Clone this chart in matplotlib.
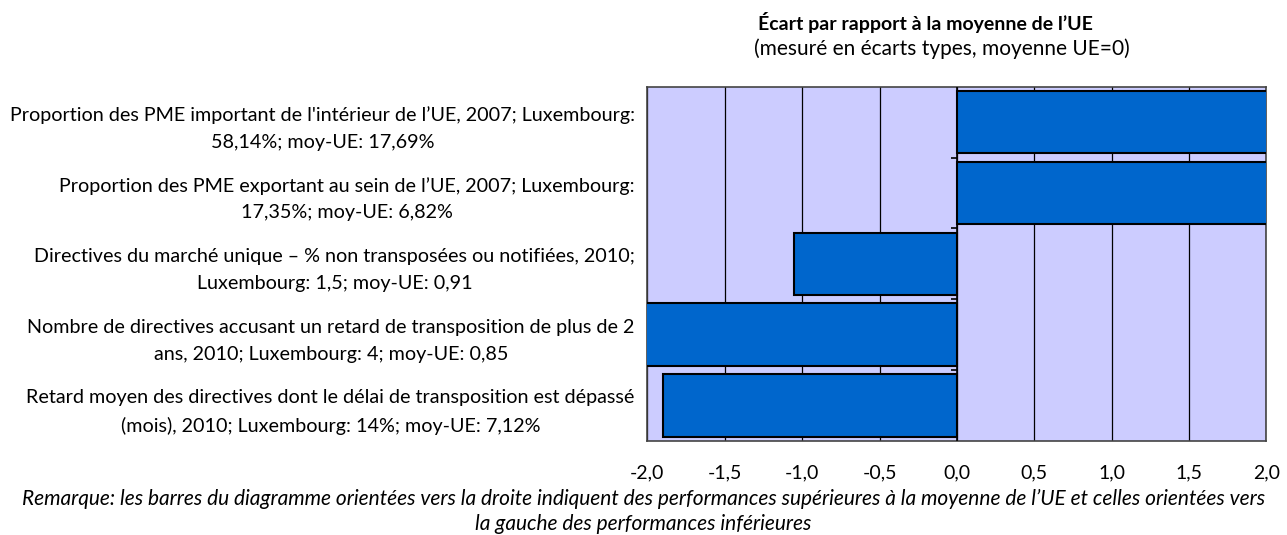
import matplotlib
matplotlib.use("Agg")
import matplotlib.pyplot as plt
import numpy as np

categories = [
    "Proportion des PME important de l'intérieur de l’UE, 2007; Luxembourg:\n58,14%; moy-UE: 17,69%",
    "Proportion des PME exportant au sein de l’UE, 2007; Luxembourg:\n17,35%; moy-UE: 6,82%",
    "Directives du marché unique – % non transposées ou notifiées, 2010;\nLuxembourg: 1,5; moy-UE: 0,91",
    "Nombre de directives accusant un retard de transposition de plus de 2\nans, 2010; Luxembourg: 4; moy-UE: 0,85",
    "Retard moyen des directives dont le délai de transposition est dépassé\n(mois), 2010; Luxembourg: 14%; moy-UE: 7,12%",
]
values = [2.6, 2.4, -1.05, -2.3, -1.9]
xticks = [-2.0, -1.5, -1.0, -0.5, 0.0, 0.5, 1.0, 1.5, 2.0]
xticklabels = ["-2,0", "-1,5", "-1,0", "-0,5", "0,0", "0,5", "1,0", "1,5", "2,0"]

title = "Écart par rapport à la moyenne de l’UE"
subtitle = "(mesuré en écarts types, moyenne UE=0)"
remark = ("Remarque: les barres du diagramme orientées vers la droite indiquent des performances supérieures à la moyenne de l’UE et celles orientées vers\n"
          "la gauche des performances inférieures")

plt.rcParams['font.family'] = ['Lato', 'DejaVu Sans']

fig = plt.figure(figsize=(12.87, 5.35), dpi=100)
ax = fig.add_axes([0.503, 0.176, 0.481, 0.662])
ax.set_facecolor("#CCCCFF")

y = np.arange(len(categories))
ax.barh(y, values, height=0.88, color="#0066CC", edgecolor="black", linewidth=1.5, zorder=3)

ax.set_xlim(-2.0, 2.0)
ax.set_ylim(len(categories) - 0.5, -0.5)
ax.set_xticks(xticks)
ax.set_xticklabels(xticklabels, fontsize=14)
ax.tick_params(axis='x', length=0, pad=17)
ax.xaxis.grid(True, color="black", linewidth=0.9, zorder=1)
ax.set_axisbelow(True)

ax.set_yticks(y)
ax.set_yticklabels(categories, fontsize=14.2, multialignment='center', linespacing=1.68)
ax.tick_params(axis='y', length=0, pad=9)

for s in ax.spines.values():
    s.set_color("#444444")
    s.set_linewidth(1.2)

# category axis at zero with boundary ticks
ax.axvline(0, color="black", linewidth=1.2, zorder=4)
bounds = np.arange(len(categories) + 1) - 0.5
ax.hlines(bounds[1:-1], -0.04, 0, color="black", linewidth=1.2, zorder=4)

fig.text(0.719, 0.958, title, ha='center', va='center', fontsize=14, fontweight='bold')
fig.text(0.732, 0.909, subtitle, ha='center', va='center', fontsize=15)
fig.text(0.5, 0.044, remark, ha='center', va='center', fontsize=15, style='italic', linespacing=1.36)

fig.savefig("out.png", dpi=100)
